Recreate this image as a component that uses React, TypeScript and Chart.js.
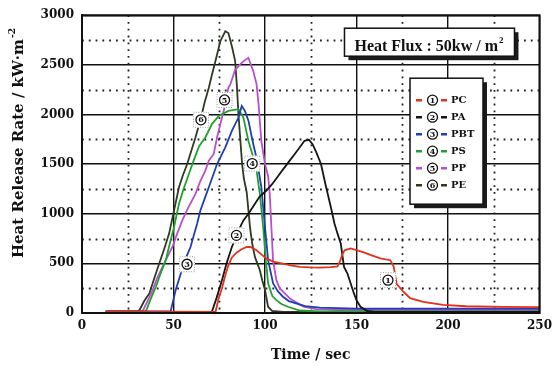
import React, { useEffect, useRef } from "react";
import { Chart, registerables } from "chart.js";

Chart.register(...registerables);

// ---- data ----
const seriesNames = ["PC", "PA", "PBT", "PS", "PP", "PE"];
const seriesColors = ["#e2321c", "#151515", "#1f3fb2", "#21a12c", "#b94fd0", "#2e3a22"];

const pcTime = [13, 73, 74.7, 76.5, 78.3, 80, 81.9, 84.6, 87, 90, 92, 95.4, 98, 100.8, 105, 109.8, 114, 119, 125, 130, 136, 139.6, 141, 142.3, 143.5, 146.8, 150.4, 154, 157.6, 163, 168.5, 170.3, 172, 175.7, 179.3, 186.5, 197.3, 210, 230, 250];
const pcHrr = [15, 12, 150, 250, 380, 480, 560, 610, 640, 665, 665, 632, 590, 548, 515, 498, 480, 465, 460, 458, 462, 470, 520, 590, 632, 650, 630, 610, 585, 550, 532, 470, 290, 214, 150, 113, 82, 68, 62, 60];

const paTime = [13, 70, 71, 73.5, 76.5, 79, 81.9, 84, 86, 88.2, 91, 94.5, 97, 100.8, 104, 108, 110.7, 113.5, 117, 121.6, 124, 126, 128, 130.6, 133, 136, 138, 139.6, 141.4, 143.2, 145, 148.6, 150, 152.2, 155.8, 160, 250];
const paHrr = [10, 10, 15, 150, 331, 500, 665, 760, 850, 933, 1000, 1100, 1170, 1234, 1300, 1401, 1467, 1535, 1620, 1735, 1745, 1700, 1620, 1501, 1300, 1066, 900, 802, 700, 464, 400, 197, 130, 63, 20, 10, 10];

const pbtTime = [13, 48, 48.5, 51.2, 54, 56, 59.3, 62.9, 64.7, 67, 69.3, 71.5, 73.8, 78.3, 81.9, 85.5, 87.3, 89, 91, 93, 95.5, 98, 100, 101.7, 104.4, 107, 109.8, 113, 117, 122, 130, 150, 250];
const pbtHrr = [15, 15, 20, 231, 398, 520, 665, 900, 1033, 1150, 1267, 1380, 1501, 1668, 1835, 1969, 2086, 2036, 1935, 1750, 1550, 1267, 866, 532, 300, 220, 164, 120, 97, 70, 55, 45, 45];

const psTime = [13, 34, 35, 37.5, 40.4, 43, 45.8, 48, 50.3, 53, 55.5, 58.4, 61, 64, 67.4, 71, 74.7, 80, 85.5, 88.2, 90.9, 93.6, 95.4, 97.2, 99, 100.3, 101.7, 104, 106.2, 109, 112.5, 119, 130, 250];
const psHrr = [15, 15, 20, 140, 264, 400, 532, 700, 866, 1100, 1250, 1401, 1535, 1680, 1768, 1903, 1986, 2036, 2053, 1969, 1735, 1568, 1434, 1200, 866, 560, 300, 170, 130, 90, 63, 25, 15, 15];

const ppTime = [13, 33, 33.2, 35.8, 38.6, 41, 44, 46.5, 49.4, 52, 54.8, 58, 62, 64.5, 67.4, 69.3, 72, 73.8, 76.5, 78.3, 80, 81, 83.7, 86.4, 88.5, 90.9, 93.6, 95.4, 96.5, 98, 100, 101.7, 102.6, 103.5, 104.4, 106.2, 108, 110.8, 114, 118, 121, 128, 140, 250];
const ppHrr = [15, 15, 20, 120, 231, 350, 465, 560, 665, 800, 933, 1060, 1200, 1320, 1434, 1535, 1602, 1768, 1969, 2100, 2270, 2300, 2450, 2504, 2540, 2571, 2437, 2304, 2100, 1735, 1500, 1380, 1200, 866, 532, 331, 250, 197, 140, 97, 63, 40, 30, 30];

const peTime = [13, 30, 31.4, 34, 36.8, 39.5, 42.2, 45, 47.6, 50.3, 53, 55, 57.5, 60, 62, 64.8, 67, 69.3, 71, 72.9, 75.6, 78.3, 80, 82, 83.7, 84.6, 85.5, 86.5, 87.5, 88.5, 90, 91.8, 93, 94.5, 97.2, 98.5, 100, 101.7, 104, 110, 250];
const peHrr = [15, 15, 30, 120, 197, 350, 498, 650, 800, 1033, 1267, 1380, 1501, 1650, 1768, 1950, 2120, 2270, 2400, 2537, 2738, 2838, 2820, 2680, 2537, 2300, 2000, 1750, 1500, 1350, 1217, 866, 700, 565, 431, 330, 231, 63, 20, 10, 10];

const seriesTimes = [pcTime, paTime, pbtTime, psTime, ppTime, peTime];
const seriesValues = [pcHrr, paHrr, pbtHrr, psHrr, ppHrr, peHrr];

// curve tag anchors (data units)
const tagTimes = [167.2, 84.4, 57.4, 93, 77.9, 65];
const tagValues = [331, 782, 491, 1505, 2146, 1946];
const tagDigits = ["1", "2", "3", "4", "5", "6"];

const xTicks = [0, 50, 100, 150, 200, 250];
const yTicks = [0, 500, 1000, 1500, 2000, 2500, 3000];

const xTitle = "Time / sec";
const yTitleMain = "Heat Release Rate / kW·m";
const yTitleSup = "-2";
const fluxMain = "Heat Flux : 50kw / m";
const fluxSup = "2";

const SERIF = "'DejaVu Serif', serif";
const TIMES = "'Liberation Serif', 'Times New Roman', serif";

function circled(ctx: CanvasRenderingContext2D, cx: number, cy: number, r: number, digit: string) {
  ctx.save();
  ctx.setLineDash([]);
  ctx.beginPath();
  ctx.arc(cx, cy, r, 0, Math.PI * 2);
  ctx.fillStyle = "#fff";
  ctx.fill();
  ctx.lineWidth = 1.3;
  ctx.strokeStyle = "#111";
  ctx.stroke();
  ctx.fillStyle = "#111";
  ctx.font = `bold ${Math.round(r * 1.5)}px ${SERIF}`;
  ctx.textAlign = "center";
  ctx.textBaseline = "middle";
  ctx.fillText(digit, cx, cy + 0.5);
  ctx.restore();
}

const overlay = {
  id: "overlay",
  beforeDatasetsDraw(chart: any) {
    const { ctx, chartArea, scales } = chart;
    const xs = scales.x;
    const ys = scales.y;
    ctx.save();
    ctx.strokeStyle = "#222";
    ctx.lineWidth = 1.8;
    ctx.setLineDash([1.8, 5]);
    for (let i = 0; i < xTicks.length - 1; i++) {
      const v = (xTicks[i] + xTicks[i + 1]) / 2;
      const px = Math.round(xs.getPixelForValue(v)) + 0.5;
      ctx.beginPath();
      ctx.moveTo(px, chartArea.top);
      ctx.lineTo(px, chartArea.bottom);
      ctx.stroke();
    }
    for (let i = 0; i < yTicks.length - 1; i++) {
      const v = (yTicks[i] + yTicks[i + 1]) / 2;
      const py = Math.round(ys.getPixelForValue(v)) + 0.5;
      ctx.beginPath();
      ctx.moveTo(chartArea.left, py);
      ctx.lineTo(chartArea.right, py);
      ctx.stroke();
    }
    ctx.restore();
  },
  afterDatasetsDraw(chart: any) {
    const { ctx, chartArea, scales } = chart;
    const xs = scales.x;
    const ys = scales.y;
    ctx.save();
    // frame
    ctx.setLineDash([]);
    ctx.strokeStyle = "#111";
    ctx.lineWidth = 2;
    ctx.strokeRect(chartArea.left, chartArea.top, chartArea.right - chartArea.left, chartArea.bottom - chartArea.top);

    // curve tags
    for (let i = 0; i < tagTimes.length; i++) {
      const cx = xs.getPixelForValue(tagTimes[i]);
      const cy = ys.getPixelForValue(tagValues[i]);
      ctx.fillStyle = "#fff";
      ctx.fillRect(cx - 8, cy - 8, 16, 16);
      ctx.strokeStyle = "#999";
      ctx.lineWidth = 1;
      ctx.setLineDash([1, 1.5]);
      ctx.strokeRect(cx - 8 + 0.5, cy - 8 + 0.5, 15, 15);
      circled(ctx, cx, cy, 5, tagDigits[i]);
    }

    // flux box
    const bx = chartArea.right - 195;
    const by = chartArea.top + 13;
    const bw = 170;
    const bh = 28;
    ctx.setLineDash([]);
    ctx.fillStyle = "#1a1a1a";
    ctx.fillRect(bx + 4, by + 4, bw, bh);
    ctx.fillStyle = "#fff";
    ctx.fillRect(bx, by, bw, bh);
    ctx.strokeStyle = "#111";
    ctx.lineWidth = 1.5;
    ctx.strokeRect(bx, by, bw, bh);
    ctx.fillStyle = "#111";
    ctx.font = `bold 16px ${TIMES}`;
    ctx.textAlign = "left";
    ctx.textBaseline = "alphabetic";
    ctx.fillText(fluxMain, bx + 10, by + 23);
    const fw = ctx.measureText(fluxMain).width;
    ctx.font = `bold 9px ${TIMES}`;
    ctx.fillText(fluxSup, bx + 11 + fw, by + 15);

    // legend box
    const lx = chartArea.left + 328;
    const ly = chartArea.top + 63;
    const lw = 73;
    const lh = 126;
    ctx.fillStyle = "#1a1a1a";
    ctx.fillRect(lx + 4, ly + 4, lw, lh);
    ctx.fillStyle = "#fff";
    ctx.fillRect(lx, ly, lw, lh);
    ctx.strokeStyle = "#111";
    ctx.lineWidth = 1.5;
    ctx.strokeRect(lx, ly, lw, lh);
    for (let i = 0; i < seriesNames.length; i++) {
      const ry = ly + 22 + i * 17;
      ctx.strokeStyle = seriesColors[i];
      ctx.lineWidth = 2.5;
      ctx.beginPath();
      ctx.moveTo(lx + 6, ry);
      ctx.lineTo(lx + 12, ry);
      ctx.moveTo(lx + 31, ry);
      ctx.lineTo(lx + 37, ry);
      ctx.stroke();
      circled(ctx, lx + 22.5, ry, 5, tagDigits[i]);
      ctx.fillStyle = "#111";
      ctx.font = `bold 10px ${SERIF}`;
      ctx.textAlign = "left";
      ctx.textBaseline = "middle";
      ctx.fillText(seriesNames[i], lx + 41, ry + 0.5);
    }

    ctx.restore();
  },
  afterDraw(chart: any) {
    const { ctx, chartArea } = chart;
    ctx.save();
    ctx.translate(19, (chartArea.top + chartArea.bottom) / 2 - 21);
    ctx.rotate(-Math.PI / 2);
    ctx.fillStyle = "#111";
    ctx.font = `bold 15px ${SERIF}`;
    const w1 = ctx.measureText(yTitleMain).width;
    ctx.font = `bold 9px ${SERIF}`;
    const w2 = ctx.measureText(yTitleSup).width;
    const start = -(w1 + w2 + 1) / 2;
    ctx.textAlign = "left";
    ctx.textBaseline = "middle";
    ctx.font = `bold 15px ${SERIF}`;
    ctx.fillText(yTitleMain, start, 0);
    ctx.font = `bold 9px ${SERIF}`;
    ctx.fillText(yTitleSup, start + w1 + 1, -6);
    ctx.restore();
  },
};

export default function App() {
  const canvasRef = useRef<HTMLCanvasElement | null>(null);

  useEffect(() => {
    const canvas = canvasRef.current;
    if (!canvas) return;
    const tickFont = { family: SERIF, weight: "bold" as const, size: 12 };
    const chart = new Chart(canvas, {
      type: "line",
      data: {
        datasets: seriesNames.map((name, i) => ({
          label: name,
          data: seriesTimes[i].map((t, j) => ({ x: t, y: seriesValues[i][j] })),
          borderColor: seriesColors[i],
          backgroundColor: seriesColors[i],
          borderWidth: 1.8,
          pointRadius: 0,
          fill: false,
          tension: 0,
        })),
      },
      options: {
        responsive: false,
        animation: false,
        layout: { padding: { top: 14, right: 13, left: 0, bottom: 0 } },
        plugins: {
          legend: { display: false },
          tooltip: { enabled: false },
          title: { display: false },
        },
        scales: {
          x: {
            type: "linear",
            min: 0,
            max: 250,
            afterBuildTicks: (s: any) => {
              s.ticks = xTicks.map((v) => ({ value: v }));
            },
            afterFit: (s: any) => {
              s.height = 59;
            },
            ticks: {
              font: tickFont,
              color: "#111",
              padding: 6,
              autoSkip: false,
              maxRotation: 0,
              callback: (v: any) => String(v),
            },
            grid: { color: "#111", lineWidth: 1.4, drawTicks: false },
            border: { color: "#111", width: 2 },
            title: {
              display: true,
              text: xTitle,
              color: "#111",
              font: { family: SERIF, weight: "bold", size: 14 },
              padding: { top: 0, bottom: 8 },
            },
          },
          y: {
            type: "linear",
            min: 0,
            max: 3000,
            afterBuildTicks: (s: any) => {
              s.ticks = yTicks.map((v) => ({ value: v }));
            },
            afterFit: (s: any) => {
              s.width = 82;
            },
            ticks: {
              font: tickFont,
              color: "#111",
              padding: 8,
              autoSkip: false,
              callback: (v: any) => String(v),
            },
            grid: { color: "#111", lineWidth: 1.4, drawTicks: false },
            border: { color: "#111", width: 2 },
          },
        },
      },
      plugins: [overlay],
    });
    return () => chart.destroy();
  }, []);

  return (
    <div style={{ position: "absolute", left: 0, top: 0, width: 558, height: 372, background: "#fff" }}>
      <canvas ref={canvasRef} width={558} height={372} style={{ display: "block" }} />
    </div>
  );
}
